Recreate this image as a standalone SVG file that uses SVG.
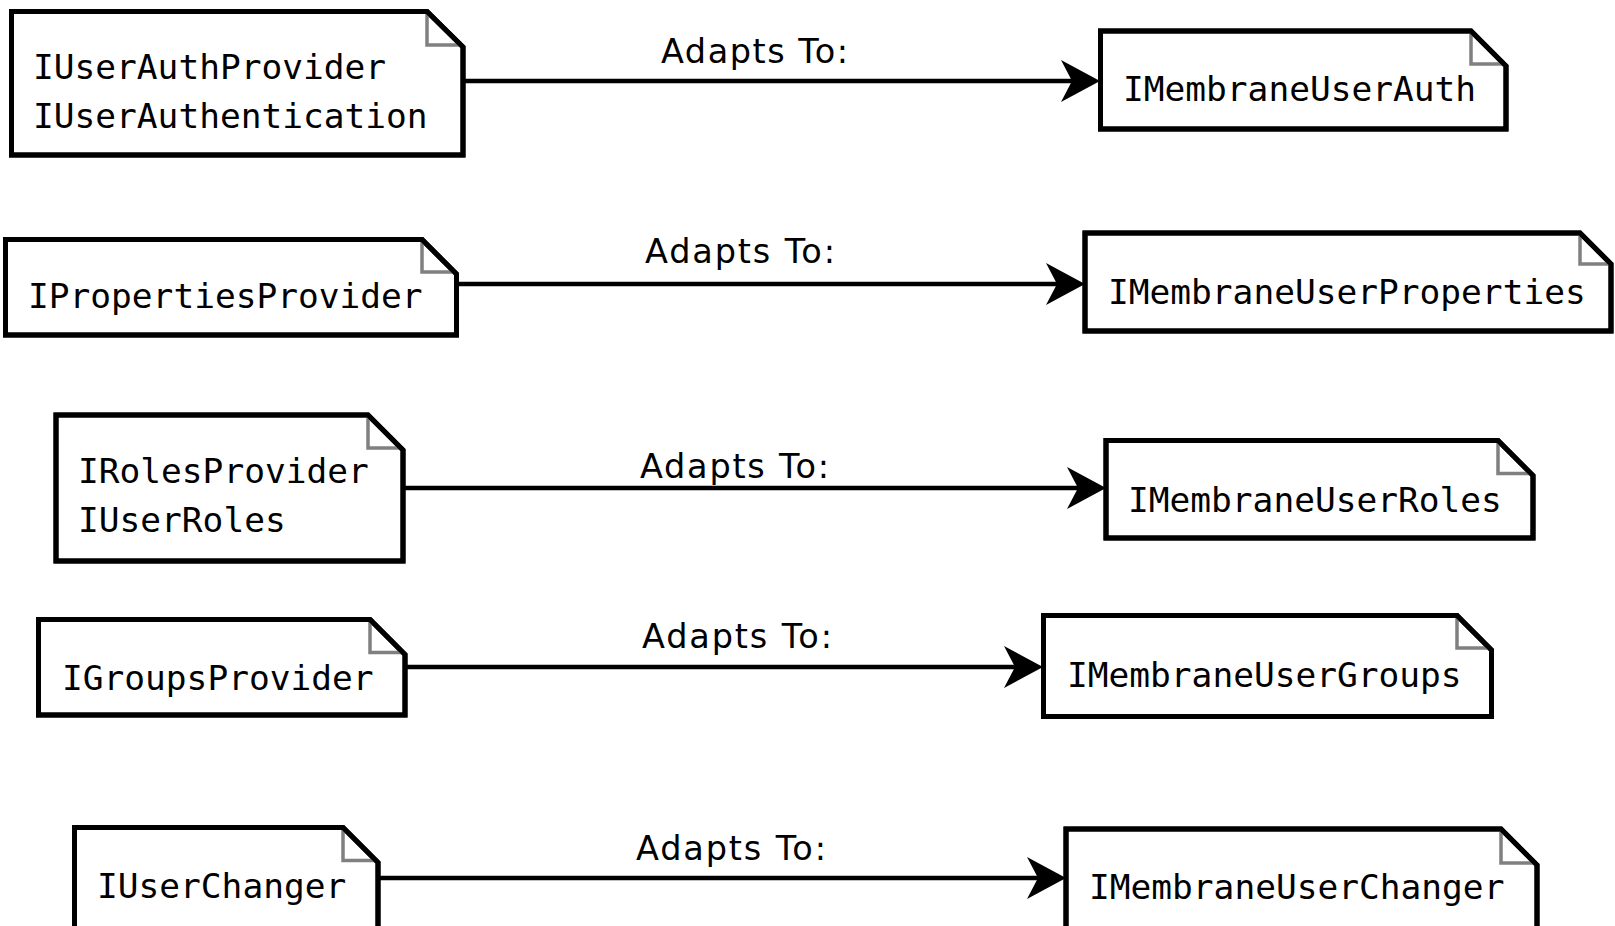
<svg xmlns="http://www.w3.org/2000/svg" width="1615" height="926" viewBox="0 0 1615 926">
<style>
.box{fill:#fff;stroke:#000;stroke-width:5;stroke-linejoin:miter}
.fold{fill:none;stroke:#808080;stroke-width:3.5}
.t{font-family:"DejaVu Sans Mono","Liberation Mono",monospace;font-size:34.5px;fill:#000}
.lbl{font-family:"DejaVu Sans","Liberation Sans",sans-serif;font-size:33.5px;fill:#000}
.edge{fill:none;stroke:#000;stroke-width:4.5}
</style>
<defs>
<marker id="ah" markerUnits="userSpaceOnUse" viewBox="-32 -23 42 46" refX="0" refY="0" markerWidth="42" markerHeight="46" orient="auto">
<path d="M9,0 L-30,-21 L-19,0 L-30,21 Z" fill="#000"/>
</marker>
</defs>
<rect width="1615" height="926" fill="#fff"/>
<g id="connectors">
<line class="edge" x1="463" y1="81" x2="1091" y2="81" marker-end="url(#ah)"/>
<text class="lbl" x="661" y="63" textLength="187" lengthAdjust="spacing">Adapts To:</text>
<line class="edge" x1="456" y1="284" x2="1076" y2="284" marker-end="url(#ah)"/>
<text class="lbl" x="645" y="263" textLength="190" lengthAdjust="spacing">Adapts To:</text>
<line class="edge" x1="403" y1="488" x2="1097" y2="488" marker-end="url(#ah)"/>
<text class="lbl" x="640" y="478" textLength="189" lengthAdjust="spacing">Adapts To:</text>
<line class="edge" x1="405" y1="667" x2="1034" y2="667" marker-end="url(#ah)"/>
<text class="lbl" x="642" y="648" textLength="190" lengthAdjust="spacing">Adapts To:</text>
<line class="edge" x1="378" y1="878" x2="1057" y2="878" marker-end="url(#ah)"/>
<text class="lbl" x="636" y="860" textLength="190" lengthAdjust="spacing">Adapts To:</text>
</g>
<g id="n1">
<path class="box" d="M11.5,11.5 H427 L463,47 V155 H11.5 Z"/>
<path class="fold" d="M427,13 V45 H461"/>
<path class="box" style="fill:none" d="M11.5,11.5 H427 L463,47 V155 H11.5 Z"/>
<text class="t" x="33" y="79">IUserAuthProvider</text>
<text class="t" x="33" y="128">IUserAuthentication</text>
</g>
<g id="n2">
<path class="box" d="M1100.5,31 H1471 L1506,66 V129 H1100.5 Z"/>
<path class="fold" d="M1471,33 V64 H1504"/>
<path class="box" style="fill:none" d="M1100.5,31 H1471 L1506,66 V129 H1100.5 Z"/>
<text class="t" x="1123" y="101">IMembraneUserAuth</text>
</g>
<g id="n3">
<path class="box" d="M5.5,239.5 H422 L456.5,274 V335 H5.5 Z"/>
<path class="fold" d="M422,241 V272 H454.5"/>
<path class="box" style="fill:none" d="M5.5,239.5 H422 L456.5,274 V335 H5.5 Z"/>
<text class="t" x="28" y="308">IPropertiesProvider</text>
</g>
<g id="n4">
<path class="box" d="M1085,233 H1580 L1611,264 V331 H1085 Z"/>
<path class="fold" d="M1580,235 V264 H1609"/>
<path class="box" style="fill:none" d="M1085,233 H1580 L1611,264 V331 H1085 Z"/>
<text class="t" x="1108" y="304">IMembraneUserProperties</text>
</g>
<g id="n5">
<path class="box" d="M56,415 H368 L403,450 V561 H56 Z"/>
<path class="fold" d="M368,417 V448 H401"/>
<path class="box" style="fill:none" d="M56,415 H368 L403,450 V561 H56 Z"/>
<text class="t" x="78" y="483">IRolesProvider</text>
<text class="t" x="78" y="532">IUserRoles</text>
</g>
<g id="n6">
<path class="box" d="M1106,440.5 H1498 L1533,475.5 V538 H1106 Z"/>
<path class="fold" d="M1498,442 V473.5 H1531"/>
<path class="box" style="fill:none" d="M1106,440.5 H1498 L1533,475.5 V538 H1106 Z"/>
<text class="t" x="1128" y="512">IMembraneUserRoles</text>
</g>
<g id="n7">
<path class="box" d="M38.5,619.5 H370 L405,654.5 V715 H38.5 Z"/>
<path class="fold" d="M370,621 V652.5 H403"/>
<path class="box" style="fill:none" d="M38.5,619.5 H370 L405,654.5 V715 H38.5 Z"/>
<text class="t" x="62" y="690">IGroupsProvider</text>
</g>
<g id="n8">
<path class="box" d="M1043.5,615.5 H1457 L1491.5,650 V716.5 H1043.5 Z"/>
<path class="fold" d="M1457,617 V648 H1489.5"/>
<path class="box" style="fill:none" d="M1043.5,615.5 H1457 L1491.5,650 V716.5 H1043.5 Z"/>
<text class="t" x="1067" y="687">IMembraneUserGroups</text>
</g>
<g id="n9">
<path class="box" d="M74.5,827.5 H343 L378,862.5 V960 H74.5 Z"/>
<path class="fold" d="M343,829 V860.5 H376"/>
<path class="box" style="fill:none" d="M74.5,827.5 H343 L378,862.5 V960 H74.5 Z"/>
<text class="t" x="97" y="898">IUserChanger</text>
</g>
<g id="n10">
<path class="box" d="M1066,829 H1501 L1537,865 V960 H1066 Z"/>
<path class="fold" d="M1501,831 V863 H1535"/>
<path class="box" style="fill:none" d="M1066,829 H1501 L1537,865 V960 H1066 Z"/>
<text class="t" x="1089" y="899">IMembraneUserChanger</text>
</g>
</svg>
